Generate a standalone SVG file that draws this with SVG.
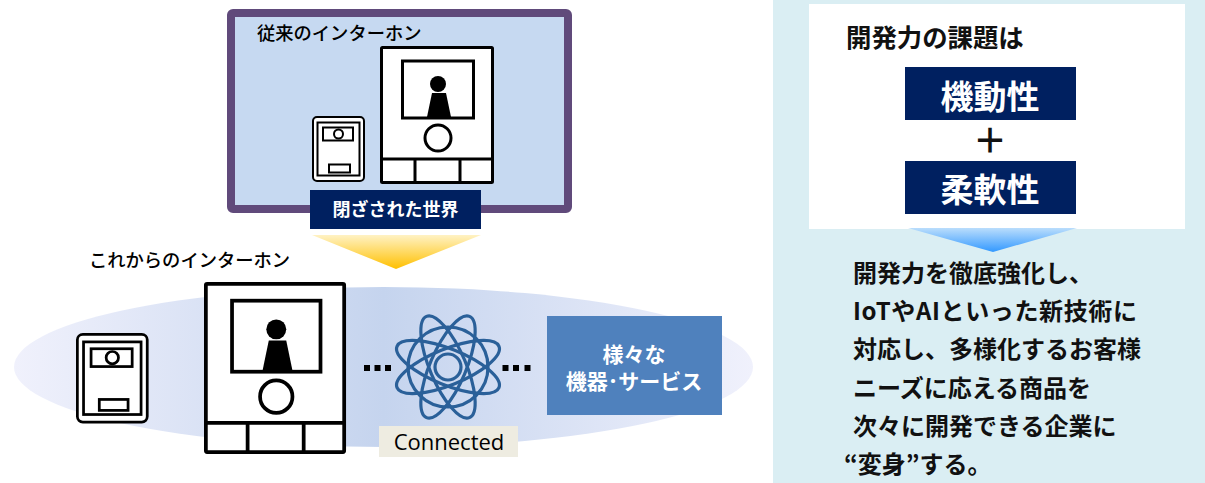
<svg xmlns="http://www.w3.org/2000/svg" width="1205" height="483" viewBox="0 0 1205 483">
<style>
text{font-family:"Noto Sans CJK JP","Liberation Sans",sans-serif}
.k{fill:#000;font-size:18.300px;font-weight:500}
.b{fill:#111;font-size:24px;font-weight:700}
.w{fill:#fff;text-anchor:middle;font-weight:700}
.line{fill:none;stroke:#000}
.at{fill:none;stroke:#2A6099;stroke-width:3.200}
.dot{fill:#000}
</style>
<defs>
<linearGradient id="ell" x1="0" y1="0" x2="1" y2="0">
<stop offset="0" stop-color="#F0F1FC"/><stop offset="0.5" stop-color="#C5D4EE"/><stop offset="1" stop-color="#F0F1FC"/>
</linearGradient>
<linearGradient id="ya" x1="0" y1="0" x2="0" y2="1"><stop offset="0" stop-color="#FFF2C4"/><stop offset="1" stop-color="#FFC000"/></linearGradient>
<linearGradient id="ba" x1="0" y1="0" x2="0" y2="1"><stop offset="0" stop-color="#BADDFC"/><stop offset="1" stop-color="#3399FF"/></linearGradient>
<g id="mon">
<rect x="1.500" y="1.500" width="111" height="135" rx="1" fill="#fff" stroke="#000" stroke-width="3"/>
<rect x="22.500" y="15" width="71" height="57" fill="#fff" stroke="#000" stroke-width="3"/>
<circle cx="58" cy="38" r="8"/>
<path d="M52 47H66L71 71H47Z"/>
<circle cx="58" cy="92" r="13" fill="#fff" stroke="#000" stroke-width="3"/>
<path class="line" stroke-width="3" d="M1 113H113M35 113V137M80 113V137"/>
</g>
<g id="door">
<rect x="1" y="1" width="51" height="64" rx="4" fill="#fff" stroke="#000" stroke-width="2"/>
<rect x="5.500" y="6.500" width="42" height="53" fill="none" stroke="#000" stroke-width="2"/>
<rect x="11" y="11.500" width="30" height="13" fill="none" stroke="#000" stroke-width="2"/>
<circle cx="26.500" cy="18" r="4.500" fill="#fff" stroke="#000" stroke-width="2"/>
<rect x="17" y="48.500" width="21" height="8" fill="none" stroke="#000" stroke-width="2"/>
</g>
</defs>

<g id="panel-right">
<rect x="773" y="0" width="432" height="483" fill="#DAEEF3"/>
<rect x="809" y="4" width="376" height="225" fill="#fff"/>
<text class="b" x="846" y="47" style="font-size:25.400px">開発力の課題は</text>
</g>
<g id="box-kidosei">
<rect x="905" y="67" width="171" height="53" fill="#002060"/>
<text class="w" x="990" y="109" font-size="33">機動性</text>
</g>
<text id="plus" x="990" y="153" font-size="34" font-weight="700" text-anchor="middle" fill="#111">＋</text>
<g id="box-junansei">
<rect x="905" y="161" width="171" height="53" fill="#002060"/>
<text class="w" x="990" y="202" font-size="33">柔軟性</text>
</g>
<polygon id="arrow-blue" points="908,228 1077,228 993,252" fill="url(#ba)"/>
<g id="body-text">
<text class="b" x="853" y="282">開発力を徹底強化し、</text>
<text class="b" x="853" y="320" textLength="284" lengthAdjust="spacing">IoTやAIといった新技術に</text>
<text class="b" x="853" y="358">対応し、多様化するお客様</text>
<text class="b" x="853" y="397">ニーズに応える商品を</text>
<text class="b" x="853" y="435">次々に開発できる企業に</text>
<text class="b" x="844" y="473">“変身”する。</text>
</g>

<g id="old-intercom">
<rect x="231" y="13" width="337" height="196" rx="2" fill="#C6D9F1" stroke="#604A7B" stroke-width="8"/>
<text class="k" x="257" y="40">従来のインターホン</text>
<use href="#mon" x="380" y="46"/>
<use href="#door" x="312" y="116"/>
</g>
<g id="closed-label">
<rect x="310" y="190" width="171" height="39" fill="#002060"/>
<text class="w" x="395.500" y="216" font-size="18">閉ざされた世界</text>
</g>
<polygon id="arrow-yellow" points="312,235 481,235 396,269" fill="url(#ya)"/>

<g id="future-intercom">
<text class="k" x="89" y="267">これからのインターホン</text>
<ellipse cx="383.500" cy="367" rx="369.500" ry="80" fill="url(#ell)"/>
<use href="#mon" transform="translate(204 282) scale(1.246)"/>
<use href="#door" transform="translate(76 333) scale(1.37)"/>
</g>
<g id="connectors">
<rect class="dot" x="364" y="365" width="6" height="6"/><rect class="dot" x="374.500" y="365" width="6" height="6"/><rect class="dot" x="385" y="365" width="6" height="6"/>
<rect class="dot" x="502.500" y="365" width="6" height="6"/><rect class="dot" x="513" y="365" width="6" height="6"/><rect class="dot" x="524.500" y="365" width="6" height="6"/>
</g>
<g id="connected" transform="translate(448 367)">
<circle class="at" r="40"/><circle class="at" r="13"/>
<ellipse class="at" rx="55" ry="18" transform="rotate(22)"/>
<ellipse class="at" rx="55" ry="18" transform="rotate(-22)"/>
<ellipse class="at" rx="55" ry="18" transform="rotate(67)"/>
<ellipse class="at" rx="55" ry="18" transform="rotate(-67)"/>
</g>
<g id="connected-label">
<rect x="379" y="426" width="139" height="31" fill="#EEECE1"/>
<text x="449" y="450" font-size="22" text-anchor="middle" fill="#000" style="font-family:'Open Sans',sans-serif">Connected</text>
</g>
<g id="devices">
<rect x="547" y="316" width="175" height="99" fill="#4F81BD"/>
<text class="w" x="634" y="362" font-size="21">様々な</text>
<text class="w" x="634" y="389" font-size="21">機器･サービス</text>
</g>
</svg>
